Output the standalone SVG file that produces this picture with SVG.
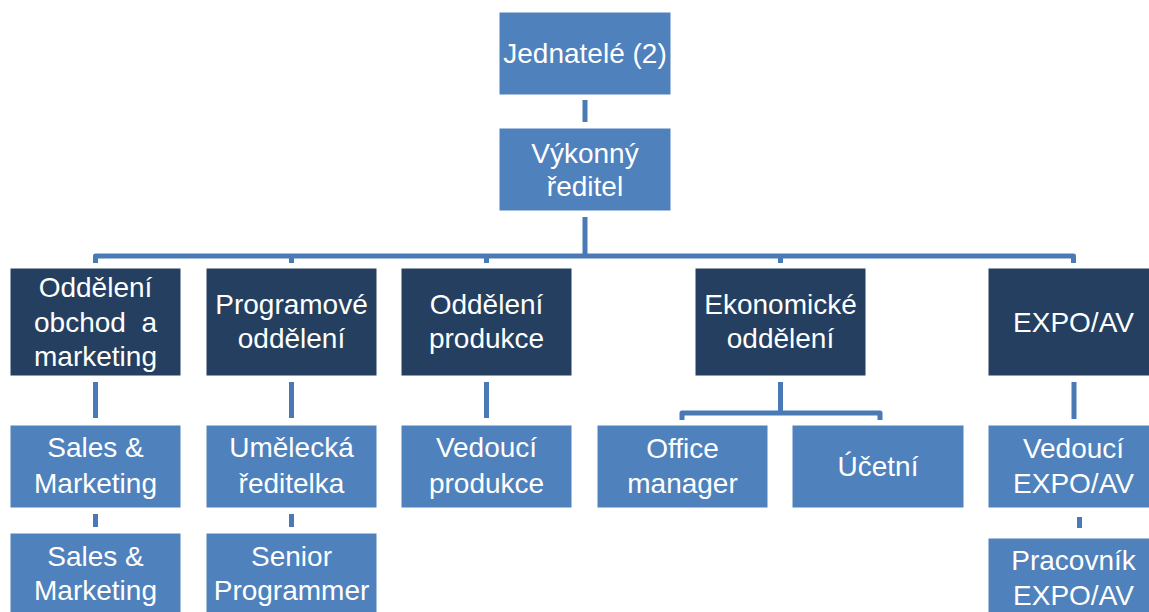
<svg xmlns="http://www.w3.org/2000/svg" width="1149" height="612" viewBox="0 0 1149 612">
<style>
.l{fill:#4F81BD;stroke:#ffffff;stroke-width:1}
.d{fill:#243F60;stroke:#ffffff;stroke-width:1}
text{font-family:"Liberation Sans",Arial,sans-serif;font-size:28px;fill:#ffffff;text-anchor:middle}
.c{fill:none;stroke:#4A7AB5;stroke-width:5;stroke-linejoin:round}
</style>
<rect width="1149" height="612" fill="#ffffff"/>
<g id="connectors">
<path class="c" d="M585 100V122"/>
<path class="c" d="M585 217V256"/>
<path class="c" d="M95.5 263V256H1073.5V263" stroke-width="4"/>
<path class="c" d="M291.5 256V263M486.5 256V263M780.5 256V263" stroke-width="4"/>
<path class="c" d="M95.5 382V418M291.5 382V418M486.5 382V418M1074 382V419"/>
<path class="c" d="M780.5 382V413"/>
<path class="c" d="M682 420V413H880V420" stroke-width="4"/>
<path class="c" d="M95.5 514V527M291.5 514V527" stroke-width="6"/>
<path class="c" d="M1079.5 517V528" stroke-width="7"/>
</g>
<g id="jednatele"><rect class="l" x="499" y="12" width="172" height="83"/><text x="585" y="63">Jednatelé (2)</text></g>
<g id="vykonny"><rect class="l" x="499" y="128" width="172" height="83"/><text x="585" y="163">Výkonný</text><text x="585" y="196">ředitel</text></g>
<g id="obchod"><rect class="d" x="10" y="268" width="171" height="108"/><text x="95.5" y="297">Oddělení</text><text x="95.5" y="332" xml:space="preserve">obchod  a</text><text x="95.5" y="366">marketing</text></g>
<g id="programove"><rect class="d" x="206" y="268" width="171" height="108"/><text x="291.5" y="314">Programové</text><text x="291.5" y="348">oddělení</text></g>
<g id="produkce"><rect class="d" x="401" y="268" width="171" height="108"/><text x="486.5" y="314">Oddělení</text><text x="486.5" y="348">produkce</text></g>
<g id="ekonomicke"><rect class="d" x="695" y="268" width="171" height="108"/><text x="780.5" y="314">Ekonomické</text><text x="780.5" y="348">oddělení</text></g>
<g id="expo"><rect class="d" x="988" y="268" width="171" height="108"/><text x="1073.5" y="332">EXPO/AV</text></g>
<g id="sales1"><rect class="l" x="10" y="425" width="171" height="83"/><text x="95.5" y="457">Sales &amp;</text><text x="95.5" y="493">Marketing</text></g>
<g id="umelecka"><rect class="l" x="206" y="425" width="171" height="83"/><text x="291.5" y="457">Umělecká</text><text x="291.5" y="493">ředitelka</text></g>
<g id="vedouci-produkce"><rect class="l" x="401" y="425" width="171" height="83"/><text x="486.5" y="457">Vedoucí</text><text x="486.5" y="493">produkce</text></g>
<g id="office"><rect class="l" x="597" y="425" width="171" height="83"/><text x="682.5" y="458">Office</text><text x="682.5" y="493">manager</text></g>
<g id="ucetni"><rect class="l" x="792" y="425" width="172" height="83"/><text x="878" y="476">Účetní</text></g>
<g id="vedouci-expo"><rect class="l" x="988" y="425" width="171" height="83"/><text x="1073.5" y="458">Vedoucí</text><text x="1073.5" y="493">EXPO/AV</text></g>
<g id="sales2"><rect class="l" x="10" y="533" width="171" height="90"/><text x="95.5" y="566">Sales &amp;</text><text x="95.5" y="600">Marketing</text></g>
<g id="senior"><rect class="l" x="206" y="533" width="171" height="90"/><text x="291.5" y="566">Senior</text><text x="291.5" y="600">Programmer</text></g>
<g id="pracovnik"><rect class="l" x="988" y="538" width="171" height="90"/><text x="1073.5" y="570">Pracovník</text><text x="1073.5" y="605">EXPO/AV</text></g>
</svg>
